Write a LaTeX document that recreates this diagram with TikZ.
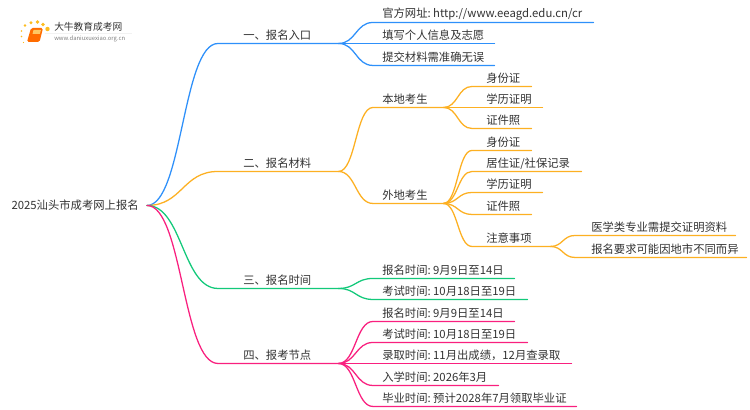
\documentclass[tikz,border=0pt]{standalone}
\usepackage{fontspec}
\usetikzlibrary{calc}
\setmainfont{Noto Sans CJK SC}
\definecolor{cblue}{HTML}{2E90FA}
\definecolor{corange}{HTML}{FDB022}
\definecolor{cgreen}{HTML}{12C97A}
\definecolor{cpink}{HTML}{F9207F}
\definecolor{ctext}{HTML}{333333}
\newcommand{\cln}{:\kern-1pt\ }
\tikzset{
  txt/.style={inner xsep=0pt,inner ysep=0pt,minimum height=11.5pt,anchor=south west,align=left,text=ctext,font=\fontsize{8.5}{10}\selectfont},
  conn/.style={line width=0.95pt,line cap=round}
}
\newcommand{\sleaf}[8]{% name, parent coordinate, colour, x0, x1, y, offset, text
  \pgfmathsetlengthmacro{\lw}{(#5-#4)*0.75pt}
  \pgfmathsetlengthmacro{\lo}{#7*0.75pt}
  \node[txt,text width=\lw] (#1) at (#4,#6) {\hspace*{\lo}\mbox{#8}};
  \draw[conn,#3] (#2) .. controls ($(#2)!0.5!(#1.south west |- #2)$) and ($(#1.south west)!0.5!(#2 |- #1.south west)$) .. (#1.south west) -- (#1.south east);
  \coordinate (#1e) at (#1.south east);
}
\begin{document}
\begin{tikzpicture}[x=0.75pt,y=-0.75pt]
\fill[white] (0,0) rectangle (750,410);
\useasboundingbox (0,0) rectangle (750,410);
% logo
\foreach \px/\py/\pr in {21.5/31/0.9,25/25.5/1.3,31/22.8/1.6,37.5/22/1.8,43/24.5/1.9,47.5/29/2.2,21.5/36.5/0.8,23.5/42.5/0.7}
  \fill[corange!85!yellow] (\px,\py) circle (\pr);
\fill[orange!85!red,rounded corners=1.2pt] (31,28) -- (43,28) -- (39.5,42) -- (27,42) -- cycle;
\fill[corange!70!white] (33.5,30) -- (41,30) -- (39.8,34) -- (32.5,34) -- cycle;
\draw[white!90!gray,line width=0.5pt] (45,33.3) -- (132,33.3);
\node[inner sep=0pt,anchor=west,text=ctext,font=\fontsize{7.3}{9}\selectfont] (logotitle) at (54,27) {大牛教育成考网};
\node[inner sep=0pt,anchor=west,text=gray,font=\fontsize{4.4}{6}\selectfont] (logourl) at (54,38.5) {www.daniuxuexiao.org.cn};
\begin{scope}[yshift=-0.35pt]
% root
\node[inner ysep=0pt,inner xsep=6pt,anchor=east,text=ctext,font=\fontsize{8.5}{10}\selectfont] (root) at (147,205) {2025汕头市成考网上报名};
% level 1
\sleaf{a}{root.east}{cblue}{218}{338}{43}{25}{一、报名入口}
\sleaf{b}{root.east}{corange}{218}{338}{171}{25}{二、报名材料}
\sleaf{c}{root.east}{cgreen}{218}{338}{288}{25}{三、报名时间}
\sleaf{d}{root.east}{cpink}{218}{338}{363}{25}{四、报考节点}
% a
\sleaf{a1}{ae}{cblue}{373}{593}{22}{9}{官方网址\cln http://www.eeagd.edu.cn/cr}
\sleaf{a2}{ae}{cblue}{373}{494}{43}{9}{填写个人信息及志愿}
\sleaf{a3}{ae}{cblue}{373}{494}{65}{9}{提交材料需准确无误}
% b
\sleaf{b1}{be}{corange}{373}{443}{107}{9}{本地考生}
\sleaf{b2}{be}{corange}{373}{443}{203}{9}{外地考生}
\sleaf{b11}{b1e}{corange}{472}{531}{86}{14}{身份证}
\sleaf{b12}{b1e}{corange}{472}{542}{107}{14}{学历证明}
\sleaf{b13}{b1e}{corange}{472}{531}{128}{14}{证件照}
\sleaf{b21}{b2e}{corange}{472}{531}{150}{14}{身份证}
\sleaf{b22}{b2e}{corange}{472}{581}{171}{14}{居住证/社保记录}
\sleaf{b23}{b2e}{corange}{472}{542}{192}{14}{学历证明}
\sleaf{b24}{b2e}{corange}{472}{531}{214}{14}{证件照}
\sleaf{b25}{b2e}{corange}{472}{550}{246}{14}{注意事项}
\sleaf{b251}{b25e}{corange}{575}{735}{235}{16}{医学类专业需提交证明资料}
\sleaf{b252}{b25e}{corange}{575}{746}{257}{16}{报名要求可能因地市不同而异}
% c
\sleaf{c1}{ce}{cgreen}{373}{514}{278}{9}{报名时间\cln 9月9日至14日}
\sleaf{c2}{ce}{cgreen}{373}{527}{299}{9}{考试时间\cln 10月18日至19日}
% d
\sleaf{d1}{de}{cpink}{373}{514}{321}{9}{报名时间\cln 9月9日至14日}
\sleaf{d2}{de}{cpink}{373}{527}{342}{9}{考试时间\cln 10月18日至19日}
\sleaf{d3}{de}{cpink}{373}{571}{363}{9}{录取时间\cln 11月出成绩，12月查录取}
\sleaf{d4}{de}{cpink}{373}{498}{385}{9}{入学时间\cln 2026年3月}
\sleaf{d5}{de}{cpink}{373}{576}{406}{9}{毕业时间\cln 预计2028年7月领取毕业证}
\end{scope}
\end{tikzpicture}
\end{document}
